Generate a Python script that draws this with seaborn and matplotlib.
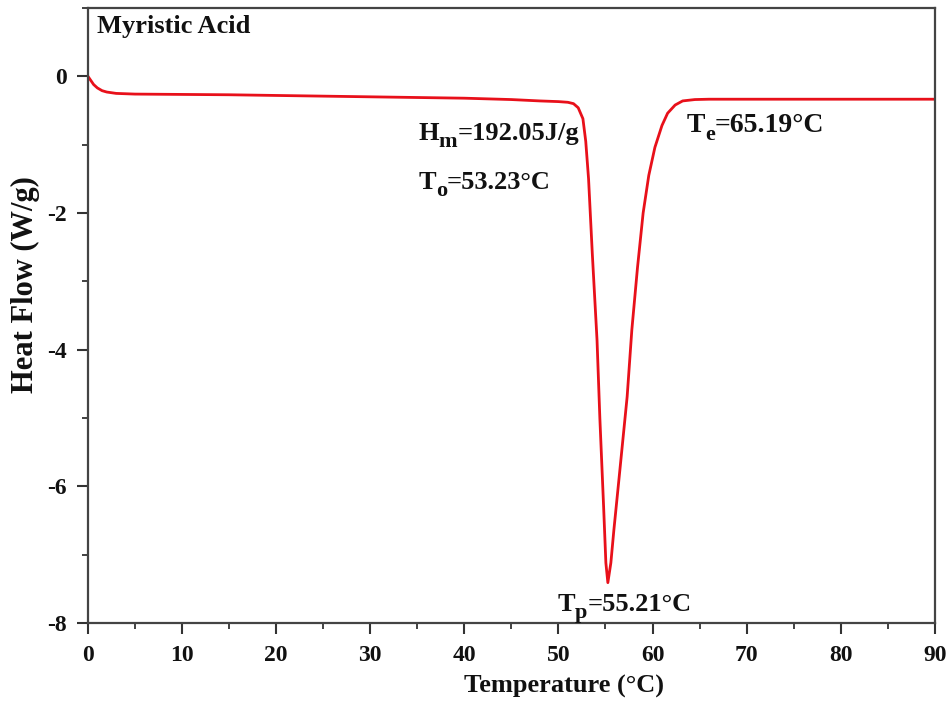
import numpy as np
import pandas as pd
import matplotlib
matplotlib.use("Agg")
import matplotlib.pyplot as plt
from matplotlib.ticker import MultipleLocator
import seaborn as sns

# Data
temperature = [0.0, 0.3, 0.6, 1.0, 1.5, 2.0, 3.0, 5.0, 10.0, 15.0, 20.0, 25.0, 30.0, 35.0, 40.0,
               45.0, 48.0, 50.0, 51.0, 51.6, 52.1, 52.6, 52.9, 53.2, 53.6, 54.1, 54.4, 54.8,
               55.04, 55.25, 55.57, 55.89, 56.5, 57.3, 57.8, 58.4, 59.0, 59.6, 60.25, 61.0,
               61.6, 62.4, 63.2, 64.5, 66.0, 70.0, 75.0, 80.0, 85.0, 90.0]
heat_flow = [0.0, -0.06, -0.12, -0.17, -0.21, -0.23, -0.25, -0.26, -0.265, -0.27, -0.28, -0.29,
             -0.30, -0.31, -0.32, -0.34, -0.36, -0.37, -0.38, -0.40, -0.46, -0.62, -0.95,
             -1.50, -2.60, -3.86, -5.00, -6.30, -7.12, -7.41, -7.12, -6.64, -5.80, -4.69,
             -3.71, -2.80, -2.00, -1.45, -1.04, -0.72, -0.54, -0.42, -0.36, -0.34, -0.335,
             -0.335, -0.335, -0.335, -0.335, -0.335]

x_ticks = [0, 10, 20, 30, 40, 50, 60, 70, 80, 90]
y_ticks = [-8, -6, -4, -2, 0]

df = pd.DataFrame({"Temperature": temperature, "HeatFlow": heat_flow})

sns.set_style("ticks")
serif = ["Liberation Serif", "DejaVu Serif"]
plt.rcParams["font.family"] = serif
plt.rcParams["font.weight"] = "bold"
plt.rcParams["axes.unicode_minus"] = False

TXT = "#111111"

fig = plt.figure(figsize=(9.51, 7.01), dpi=100)
ax = fig.add_axes([0.0925, 0.1113, 0.8905, 0.8773])

sns.lineplot(data=df, x="Temperature", y="HeatFlow", ax=ax, color="#e8101a",
             linewidth=2.0, sort=False, estimator=None)

ax.set_xlim(0, 90)
ax.set_ylim(-8, 1.0)
ax.set_xticks(x_ticks)
ax.set_yticks(y_ticks)
ax.xaxis.set_minor_locator(MultipleLocator(5))
ax.yaxis.set_minor_locator(MultipleLocator(1))
ax.tick_params(axis="both", which="major", direction="out", length=8, width=1.5,
               labelsize=17, colors="#333333", top=False, right=False)
ax.tick_params(axis="x", which="major", pad=8)
ax.tick_params(axis="y", which="major", pad=7)
ax.tick_params(axis="both", which="minor", direction="out", length=4, width=1.3,
               colors="#333333", top=False, right=False)
for lab in ax.get_xticklabels() + ax.get_yticklabels():
    lab.set_fontweight("bold")
    lab.set_color(TXT)
for sp in ax.spines.values():
    sp.set_linewidth(1.6)
    sp.set_color("#444444")

ax.set_xlabel("Temperature (°C)", fontsize=19, fontweight="bold", color=TXT)
ax.set_ylabel("Heat Flow (W/g)", fontsize=22, fontweight="bold", color=TXT)
ax.xaxis.label.set_va("center")
ax.yaxis.label.set_va("center")
ax.xaxis.set_label_coords(0.562, -0.104)
ax.yaxis.set_label_coords(-0.074, 0.55)

ax.text(1.0, 0.63, "Myristic Acid", fontsize=19, fontweight="bold", color=TXT)


def sub_label(x, y, main, sub, rest, size=19, subsize=16, drop=5):
    t1 = ax.text(x, y, main, fontsize=size, fontweight="bold", color=TXT,
                 ha="left", va="baseline")
    t2 = ax.annotate(sub, xy=(1, 0), xycoords=t1, xytext=(0, -drop),
                     textcoords="offset points", fontsize=subsize, fontweight="bold",
                     color=TXT, ha="left", va="bottom")
    ax.annotate(rest, xy=(1, 0), xycoords=(t2, t1), fontsize=size, fontweight="bold",
                color=TXT, ha="left", va="bottom")


sub_label(35.1, -0.93, "H", "m", "=192.05J/g")
sub_label(35.1, -1.65, "T", "o", "=53.23°C")
sub_label(63.6, -0.82, "T", "e", "=65.19°C", size=20)
sub_label(49.9, -7.83, "T", "p", "=55.21°C")

fig.savefig("out.png", dpi=100)
